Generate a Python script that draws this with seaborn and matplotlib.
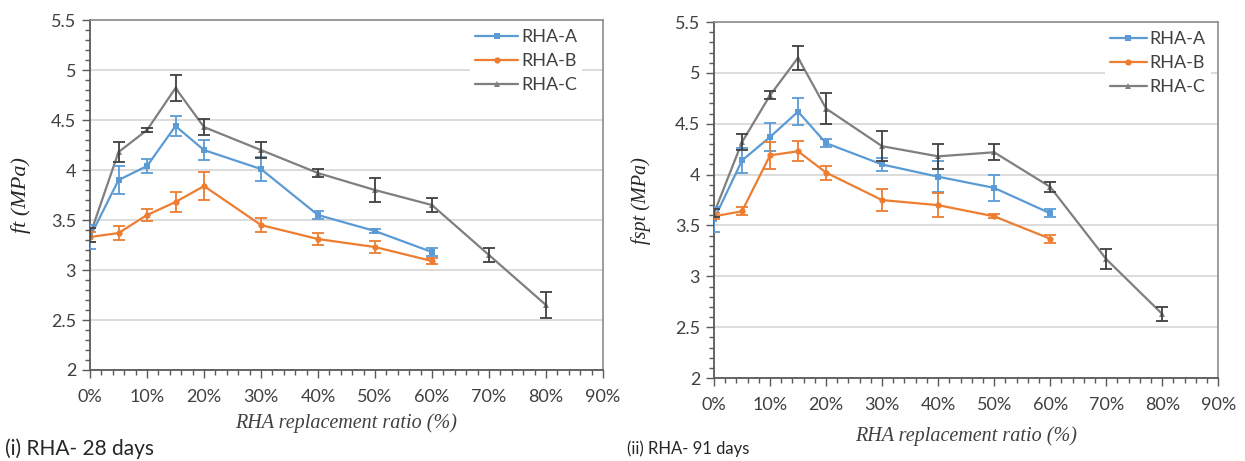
import numpy as np
import pandas as pd
import matplotlib
matplotlib.use("Agg")
import matplotlib.pyplot as plt
import seaborn as sns
from matplotlib.ticker import MultipleLocator, FuncFormatter

# replacement ratio (%)
ratio_ab = [0, 5, 10, 15, 20, 30, 40, 50, 60]
ratio_c = [0, 5, 10, 15, 20, 30, 40, 50, 60, 70, 80]

# (i) 28 days - ft (MPa)
ft_a = [3.33, 3.90, 4.04, 4.44, 4.20, 4.01, 3.55, 3.39, 3.18]
ft_a_err = [0.12, 0.14, 0.07, 0.10, 0.10, 0.12, 0.04, 0.02, 0.04]
ft_b = [3.33, 3.37, 3.55, 3.68, 3.84, 3.45, 3.31, 3.23, 3.09]
ft_b_err = [0.05, 0.07, 0.06, 0.10, 0.14, 0.07, 0.06, 0.06, 0.03]
ft_c = [3.35, 4.18, 4.40, 4.82, 4.43, 4.20, 3.97, 3.80, 3.65, 3.15, 2.65]
ft_c_err = [0.07, 0.10, 0.02, 0.13, 0.08, 0.08, 0.04, 0.12, 0.07, 0.07, 0.13]

# (ii) 91 days - fspt (MPa)
fs_a = [3.56, 4.14, 4.37, 4.62, 4.31, 4.10, 3.98, 3.87, 3.62]
fs_a_err = [0.12, 0.12, 0.14, 0.13, 0.04, 0.06, 0.15, 0.13, 0.04]
fs_b = [3.59, 3.64, 4.19, 4.23, 4.02, 3.75, 3.70, 3.59, 3.37]
fs_b_err = [0.03, 0.04, 0.13, 0.10, 0.07, 0.11, 0.12, 0.02, 0.04]
fs_c = [3.62, 4.32, 4.78, 5.15, 4.65, 4.28, 4.18, 4.22, 3.88, 3.17, 2.63]
fs_c_err = [0.04, 0.08, 0.04, 0.12, 0.15, 0.15, 0.12, 0.08, 0.05, 0.10, 0.07]

mixes = ["RHA-A", "RHA-B", "RHA-C"]
colors = {"RHA-A": "#5B9BD5", "RHA-B": "#ED7D31", "RHA-C": "#7F7F7F"}
err_colors = {"RHA-A": "#5B9BD5", "RHA-B": "#ED7D31", "RHA-C": "#404040"}
markers = {"RHA-A": "s", "RHA-B": "o", "RHA-C": "^"}

sns.set_theme(style="white")
plt.rcParams["font.family"] = ["Lato", "DejaVu Sans"]


def long_df(a, b, c):
    rows = []
    for name, xs, ys in [("RHA-A", ratio_ab, a), ("RHA-B", ratio_ab, b), ("RHA-C", ratio_c, c)]:
        for x, y in zip(xs, ys):
            rows.append({"ratio": x, "value": y, "mix": name})
    return pd.DataFrame(rows)


def draw(ax, a, b, c, errs, ylabel, ylab_x, xlab_y, ylab_size, leg_anchor, hl):
    df = long_df(a, b, c)
    ax.yaxis.grid(True, color="#D9D9D9", lw=1.3)
    ax.set_axisbelow(True)
    sns.lineplot(data=df, x="ratio", y="value", hue="mix", style="mix",
                 palette=colors, markers=markers, dashes=False, lw=1.6,
                 markersize=4.5, markeredgewidth=0, ax=ax, zorder=3)
    for name, xs, ys, e in [("RHA-A", ratio_ab, a, errs[0]),
                            ("RHA-B", ratio_ab, b, errs[1]),
                            ("RHA-C", ratio_c, c, errs[2])]:
        ax.errorbar(xs, ys, yerr=e, fmt="none", ecolor=err_colors[name],
                    elinewidth=1.3, capsize=4, capthick=1.3, zorder=4)

    ax.set_xlim(0, 90)
    ax.set_ylim(2, 5.5)
    ax.xaxis.set_major_locator(MultipleLocator(10))
    ax.xaxis.set_minor_locator(MultipleLocator(2))
    ax.yaxis.set_major_locator(MultipleLocator(0.5))
    ax.yaxis.set_minor_locator(MultipleLocator(0.1))
    ax.xaxis.set_major_formatter(FuncFormatter(lambda v, p: f"{v:.0f}%"))
    ax.yaxis.set_major_formatter(FuncFormatter(lambda v, p: f"{v:g}"))
    ax.tick_params(axis="both", which="major", direction="out", length=6,
                   width=1, color="#595959", labelsize=13, labelcolor="#404040",
                   bottom=True, left=True, pad=4)
    ax.tick_params(axis="both", which="minor", direction="out", length=3.5,
                   width=1, color="#595959", bottom=True, left=True)
    ax.tick_params(axis="x", which="major", pad=8)

    for s in ["top", "right"]:
        ax.spines[s].set_color("#8C8C8C")
        ax.spines[s].set_linewidth(1.2)
    for s in ["left", "bottom"]:
        ax.spines[s].set_color("#595959")
        ax.spines[s].set_linewidth(1.3)

    ax.set_xlabel("RHA replacement ratio (%)", family="Liberation Serif",
                  style="italic", fontsize=14.5, color="#404040")
    ax.xaxis.set_label_coords(0.5, xlab_y)
    ax.set_ylabel(ylabel, family="Liberation Serif", style="italic",
                  fontsize=ylab_size, color="#262626")
    ax.yaxis.set_label_coords(ylab_x, 0.5)

    handles, labels = ax.get_legend_handles_labels()
    leg = ax.legend(handles, labels, loc="upper right", bbox_to_anchor=leg_anchor,
                    frameon=True, facecolor="white", edgecolor="none", framealpha=1,
                    fancybox=False, fontsize=13, handlelength=hl, handletextpad=0.15,
                    labelspacing=0.45, borderpad=0.3, borderaxespad=0)
    for t in leg.get_texts():
        t.set_color("#404040")


fig = plt.figure(figsize=(12.45, 4.61), dpi=100)
ax1 = fig.add_axes([0.0723, 0.1974, 0.412, 0.759])
ax2 = fig.add_axes([0.5735, 0.180, 0.405, 0.772])

draw(ax1, ft_a, ft_b, ft_c, [ft_a_err, ft_b_err, ft_c_err], "ft (MPa)",
     -0.115, -0.125, 16, (0.96, 0.99), 2.4)
draw(ax2, fs_a, fs_b, fs_c, [fs_a_err, fs_b_err, fs_c_err], "fspt (MPa)",
     -0.125, -0.135, 14.5, (0.985, 0.99), 2.0)

fig.text(0.004, 0.012, "(i) RHA- 28 days", fontsize=15, color="#262626")
fig.text(0.504, 0.015, "(ii) RHA- 91 days", fontsize=12, color="#262626")

fig.savefig("out.png", dpi=100)
